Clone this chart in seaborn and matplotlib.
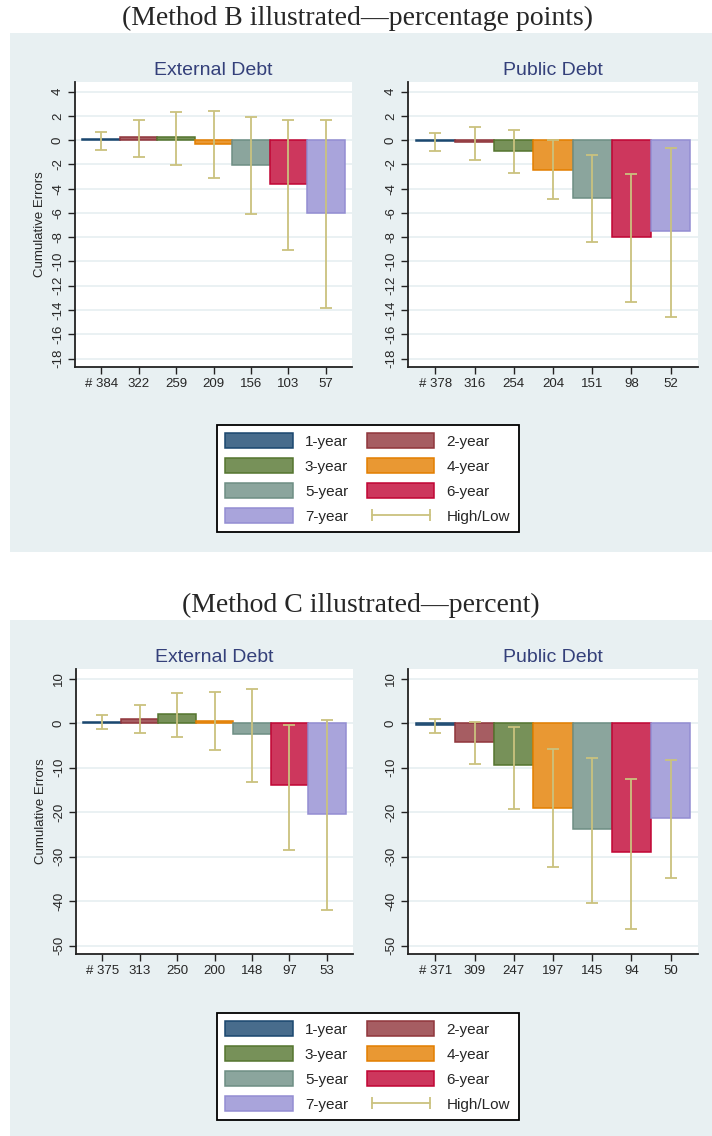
import numpy as np
import pandas as pd
import matplotlib
matplotlib.use("Agg")
import matplotlib.pyplot as plt
import seaborn as sns
from matplotlib.patches import Patch, Rectangle
from matplotlib.lines import Line2D

sns.set_style("white")
plt.rcParams["font.family"] = ["Liberation Sans", "DejaVu Sans"]
plt.rcParams["axes.unicode_minus"] = False

# ---- data -------------------------------------------------------------
horizons = ["1-year", "2-year", "3-year", "4-year", "5-year", "6-year", "7-year"]

# Method B (percentage points)
b_ext_counts = ["# 384", "322", "259", "209", "156", "103", "57"]
b_ext_mean = [0.1, 0.25, 0.25, -0.35, -2.05, -3.65, -6.0]
b_ext_high = [0.69, 1.7, 2.31, 2.45, 1.92, 1.7, 1.7]
b_ext_low = [-0.8, -1.4, -2.03, -3.1, -6.05, -9.05, -13.85]

b_pub_counts = ["# 378", "316", "254", "204", "151", "98", "52"]
b_pub_mean = [-0.05, -0.18, -0.92, -2.42, -4.75, -7.97, -7.45]
b_pub_high = [0.58, 1.07, 0.82, 0.0, -1.26, -2.75, -0.66]
b_pub_low = [-0.87, -1.6, -2.7, -4.86, -8.4, -13.35, -14.56]

# Method C (percent)
c_ext_counts = ["# 375", "313", "250", "200", "148", "97", "53"]
c_ext_mean = [0.3, 1.0, 2.0, 0.6, -2.5, -13.9, -20.3]
c_ext_high = [1.95, 4.0, 6.7, 7.0, 7.7, -0.4, 0.7]
c_ext_low = [-1.4, -2.2, -3.1, -6.1, -13.3, -28.4, -41.9]

c_pub_counts = ["# 371", "309", "247", "197", "145", "94", "50"]
c_pub_mean = [-0.3, -4.2, -9.5, -19.0, -23.7, -29.0, -21.4]
c_pub_high = [1.0, 0.3, -0.75, -5.8, -7.8, -12.6, -8.2]
c_pub_low = [-2.1, -9.1, -19.3, -32.4, -40.5, -46.2, -34.8]

b_ticks = list(range(4, -19, -2))
c_ticks = list(range(10, -51, -10))

# ---- styling -----------------------------------------------------------
edge_colors = ["#1a476f", "#90353b", "#55752f", "#e37e00", "#6e8e84", "#c10534", "#938dd2"]
fill_colors = ["#486c8c", "#a65d62", "#779159", "#e99833", "#8ba59d", "#cd375d", "#a9a4db"]
whisker_color = "#cac27e"
panel_bg = "#e8f0f2"
grid_color = "#e8f0f2"
title_color = "#34407a"

W, H = 712, 1136
fig = plt.figure(figsize=(W / 100, H / 100), dpi=100)
fig.patch.set_facecolor("white")


def rect(x0, y0, x1, y1):
    return [x0 / W, 1 - y1 / H, (x1 - x0) / W, (y1 - y0) / H]


# shaded graph regions
for (x0, y0, x1, y1) in [(10, 33, 712, 552), (10, 620, 712, 1136)]:
    fig.patches.append(Rectangle((x0 / W, 1 - y1 / H), (x1 - x0) / W, (y1 - y0) / H,
                                 transform=fig.transFigure, facecolor=panel_bg,
                                 edgecolor="none", zorder=-10))


def draw_panel(ax, counts, mean, high, low, ticks, ylim, title, ylabel=None):
    df = pd.DataFrame({"horizon": horizons, "error": mean})
    sns.barplot(data=df, x="horizon", y="error", hue="horizon", order=horizons,
                hue_order=horizons, palette=dict(zip(horizons, fill_colors)),
                saturation=1, width=1.0, legend=False, ax=ax, zorder=2)
    for p in ax.patches:
        idx = int(round(p.get_x() + p.get_width() / 2))
        p.set_edgecolor(edge_colors[idx])
        p.set_linewidth(1.1)
    xs = np.arange(len(horizons))
    hi = np.array(high)
    lo = np.array(low)
    ax.errorbar(xs, (hi + lo) / 2, yerr=(hi - lo) / 2, fmt="none", ecolor=whisker_color,
                elinewidth=1.3, capsize=4, capthick=1.3, zorder=3)
    ax.set_xlim(-0.7, 6.7)
    ax.set_ylim(*ylim)
    ax.set_yticks(ticks)
    ax.set_yticklabels([str(t) for t in ticks], rotation=90, va="center")
    ax.set_xticks(xs)
    ax.set_xticklabels(counts)
    ax.tick_params(axis="both", labelsize=9.5, length=5, width=1, color="#222222",
                   direction="out", pad=3, bottom=True, left=True)
    ax.set_facecolor("white")
    ax.grid(axis="y", color=grid_color, linewidth=1.3, zorder=0)
    ax.grid(axis="x", visible=False)
    ax.set_axisbelow(True)
    for s in ["top", "right"]:
        ax.spines[s].set_visible(False)
    for s in ["left", "bottom"]:
        ax.spines[s].set_color("#222222")
        ax.spines[s].set_linewidth(1.3)
    ax.set_xlabel("")
    ax.set_ylabel(ylabel if ylabel else "", fontsize=9.5, labelpad=4)
    ax.set_title(title, fontsize=14, color=title_color, pad=5)


ax1 = fig.add_axes(rect(75, 82, 352, 367))
ax2 = fig.add_axes(rect(408, 82, 698, 367))
ax3 = fig.add_axes(rect(76, 669, 353, 954))
ax4 = fig.add_axes(rect(408, 669, 698, 954))

draw_panel(ax1, b_ext_counts, b_ext_mean, b_ext_high, b_ext_low, b_ticks, (-18.7, 4.8),
           "External Debt", "Cumulative Errors")
draw_panel(ax2, b_pub_counts, b_pub_mean, b_pub_high, b_pub_low, b_ticks, (-18.7, 4.8),
           "Public Debt")
draw_panel(ax3, c_ext_counts, c_ext_mean, c_ext_high, c_ext_low, c_ticks, (-51.9, 12.2),
           "External Debt", "Cumulative Errors")
draw_panel(ax4, c_pub_counts, c_pub_mean, c_pub_high, c_pub_low, c_ticks, (-51.9, 12.2),
           "Public Debt")

# section headings
serif = ["Liberation Serif", "DejaVu Serif"]
fig.text(358 / W, 1 - 25 / H, "(Method B illustrated\u2014percentage points)",
         ha="center", va="baseline", fontsize=20, family=serif)
fig.text(361 / W, 1 - 612 / H, "(Method C illustrated\u2014percent)",
         ha="center", va="baseline", fontsize=20, family=serif)

# legends (row-major order: left column odd horizons, right column the rest)
patch_handles = [Patch(facecolor=f, edgecolor=e, linewidth=1.1) for f, e in zip(fill_colors, edge_colors)]
hl_handle = Line2D([], [], color=whisker_color, linewidth=1.3, marker="|", markersize=9,
                   markeredgewidth=1.3)
order = [0, 2, 4, 6, 1, 3, 5]
handles = [patch_handles[i] for i in order] + [hl_handle]
labels = [horizons[i] for i in order] + ["High/Low"]

for top in (425, 1013):
    leg = fig.legend(handles, labels, loc="upper left", bbox_to_anchor=(217 / W, 1 - top / H),
                     ncol=2, frameon=True, fancybox=False, edgecolor="black", facecolor="white",
                     framealpha=1, numpoints=2, handlelength=4.4, handleheight=1.1,
                     handletextpad=0.8, columnspacing=1.25, labelspacing=0.62, borderpad=0.55,
                     fontsize=11, borderaxespad=0)
    leg.get_frame().set_linewidth(1.3)

fig.savefig("out.png", dpi=100)
